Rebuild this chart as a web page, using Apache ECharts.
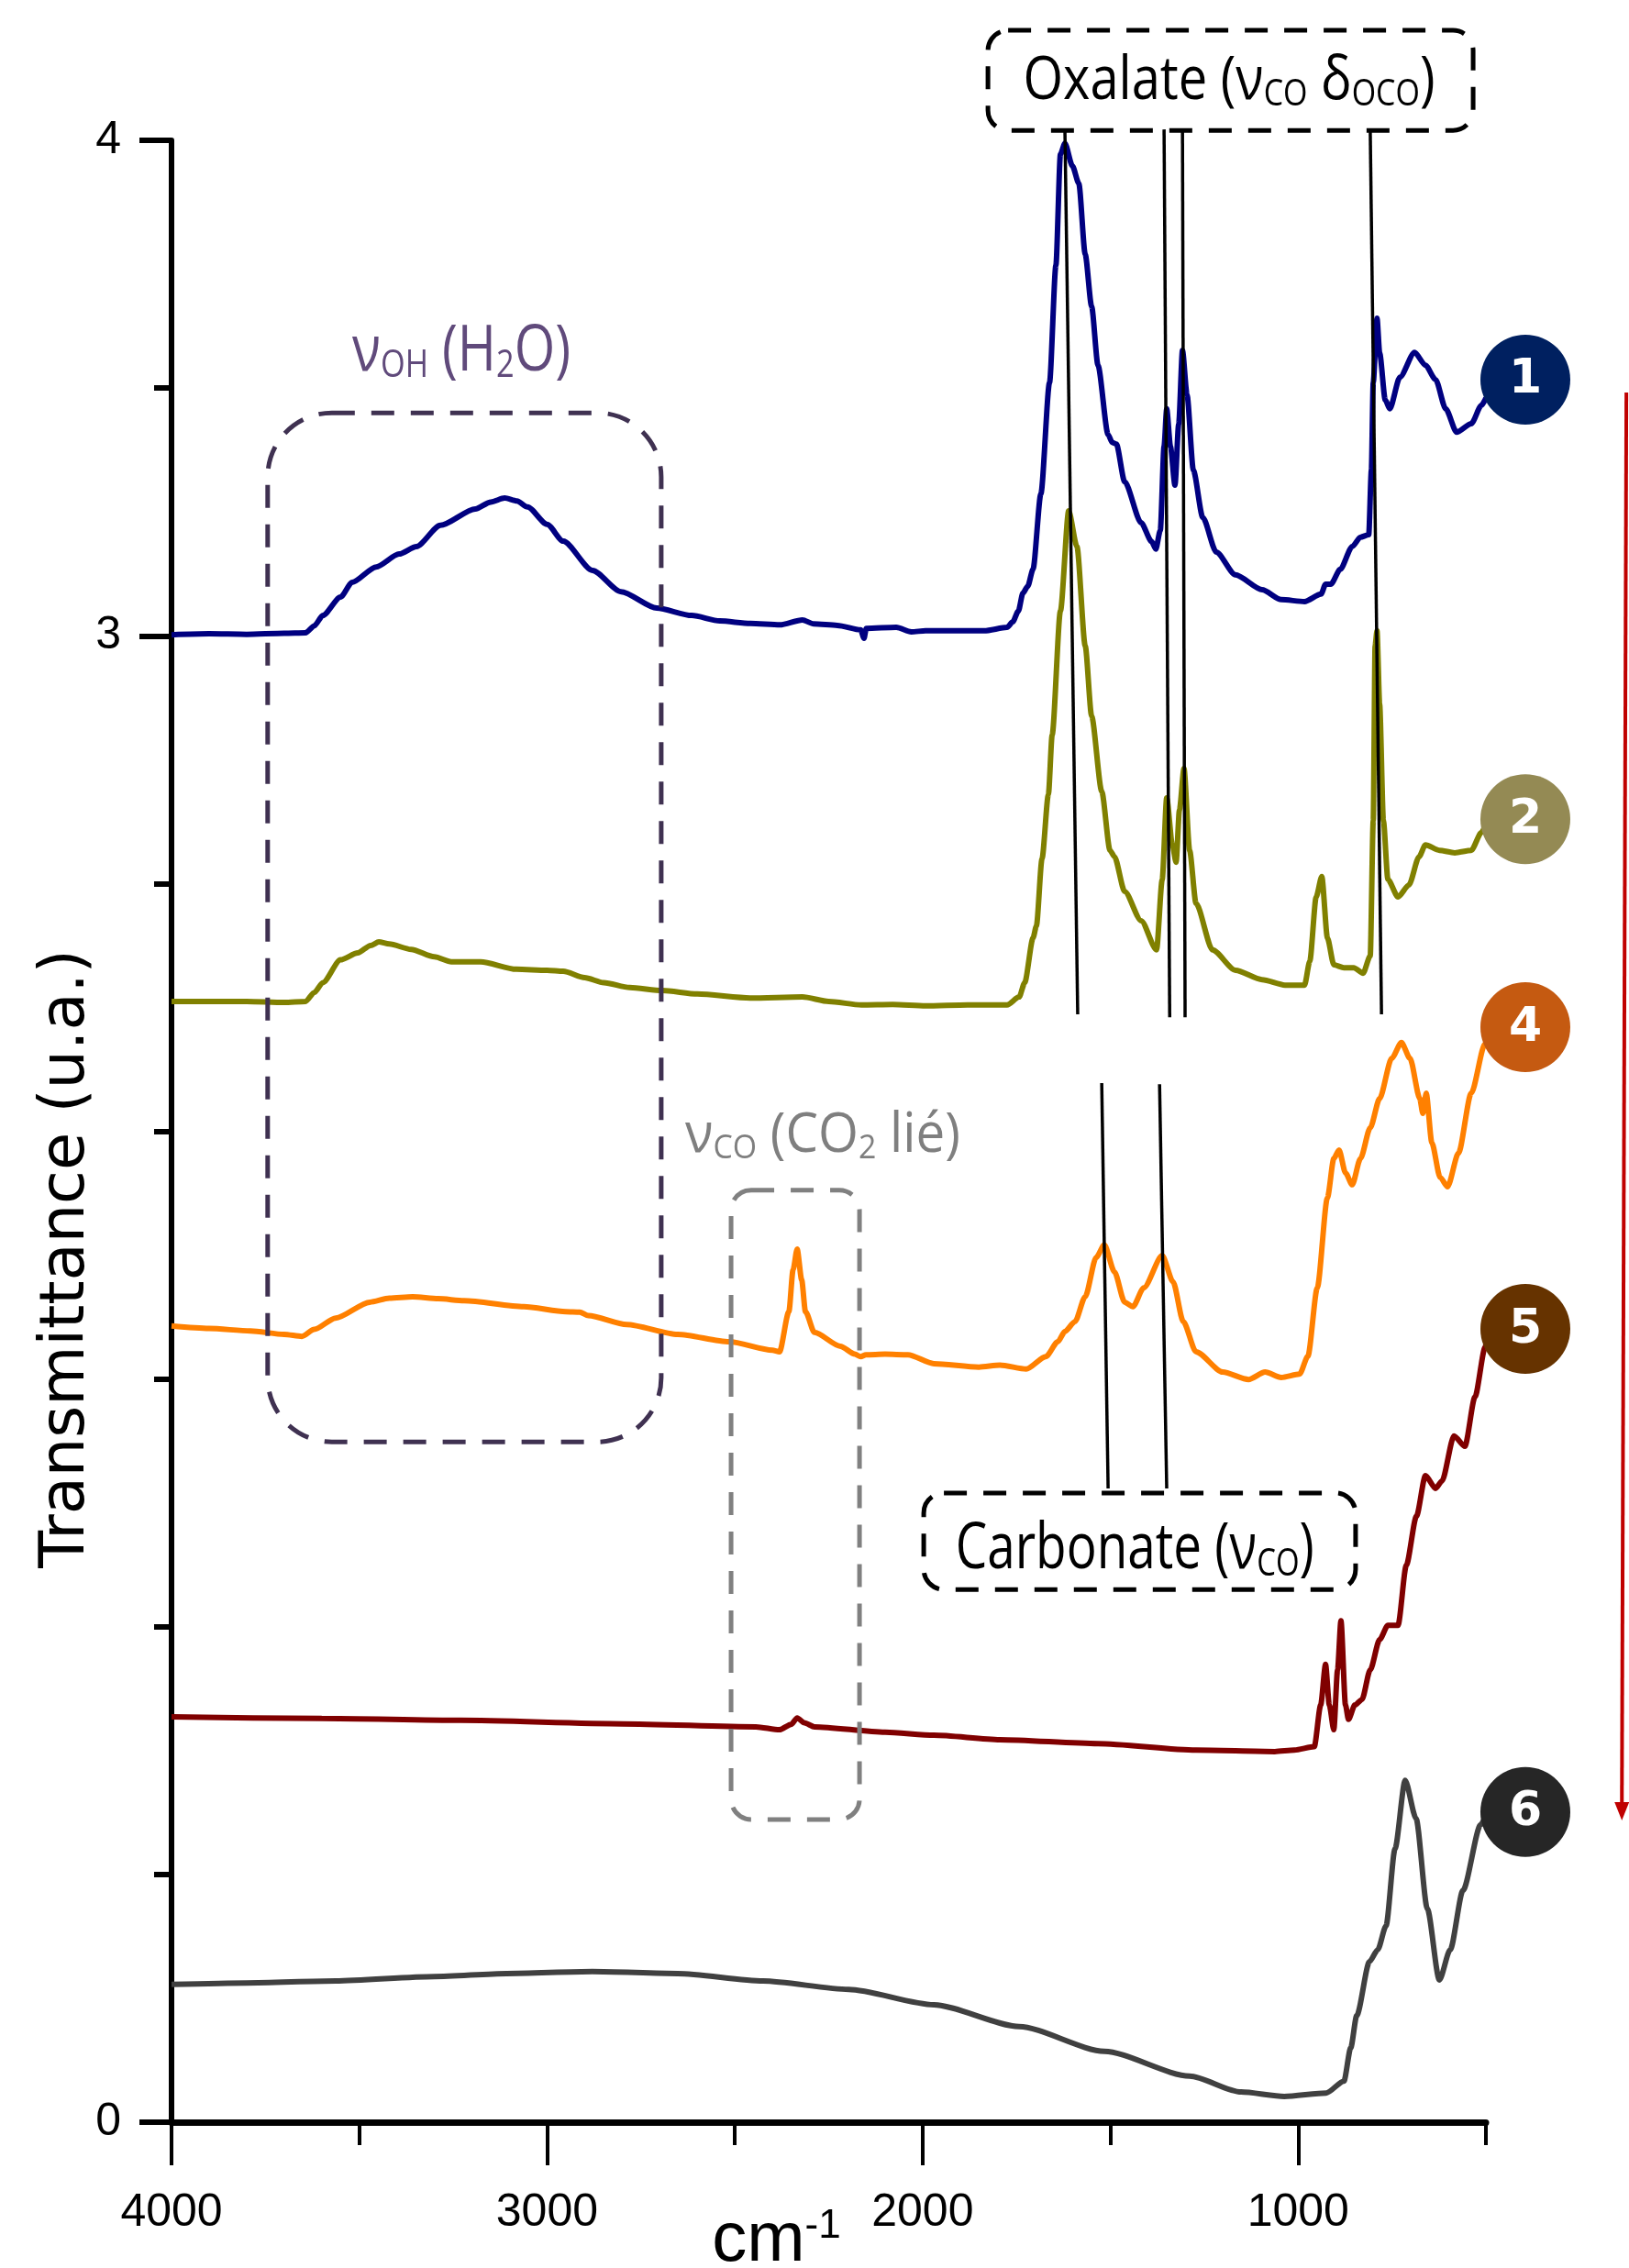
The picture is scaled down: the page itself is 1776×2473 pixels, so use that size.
<!DOCTYPE html>
<html>
<head>
<meta charset="utf-8">
<script src="https://cdn.jsdelivr.net/npm/echarts@6/dist/echarts.min.js"></script>
<style>
html,body{margin:0;padding:0;background:#ffffff;}
#chart{width:1776px;height:2473px;}
</style>
</head>
<body>
<div id="chart"></div>
<script>
// ---------------- data ----------------
const wavenumberTickLabels = [4000, 3000, 2000, 1000];
const transmittanceTickLabels = [0, 3, 4];

const spectrum1 = [[4000,3.002],[3900,3.004],[3800,3.003],[3700,3.005],[3643,3.006],[3620,3.02],[3597,3.041],[3550,3.078],[3519,3.108],[3455,3.139],[3394,3.165],[3348,3.180],[3284,3.223],[3191,3.256],[3150,3.27],[3113,3.278],[3080,3.272],[3052,3.260],[3000,3.225],[2957,3.191],[2879,3.132],[2803,3.089],[2708,3.056],[2615,3.041],[2540,3.03],[2459,3.025],[2380,3.022],[2320,3.032],[2290,3.024],[2227,3.021],[2165,3.012],[2156,2.995],[2150,3.015],[2070,3.017],[2030,3.008],[1992,3.010],[1900,3.01],[1836,3.010],[1775,3.017],[1760,3.028],[1745,3.05],[1733,3.086],[1720,3.1],[1706,3.134],[1685,3.287],[1662,3.511],[1645,3.748],[1633,3.972],[1621,3.994],[1601,3.948],[1584,3.913],[1567,3.770],[1550,3.665],[1533,3.546],[1506,3.406],[1495,3.39],[1484,3.387],[1462,3.311],[1418,3.228],[1390,3.19],[1379,3.175],[1367,3.213],[1357,3.382],[1350,3.458],[1340,3.382],[1328,3.304],[1318,3.428],[1308,3.576],[1296,3.487],[1279,3.334],[1254,3.239],[1218,3.169],[1167,3.123],[1096,3.093],[1045,3.073],[983,3.069],[939,3.084],[927,3.104],[913,3.104],[888,3.134],[856,3.180],[834,3.199],[812,3.204],[805,3.334],[800,3.511],[790,3.641],[783,3.571],[768,3.476],[756,3.458],[729,3.522],[690,3.572],[661,3.546],[634,3.517],[607,3.458],[578,3.411],[539,3.428],[512,3.465],[500,3.48]];

const spectrum2 = [[4000,2.262],[3800,2.262],[3700,2.26],[3643,2.262],[3620,2.28],[3597,2.300],[3550,2.346],[3504,2.360],[3470,2.375],[3448,2.382],[3420,2.378],[3362,2.367],[3300,2.352],[3255,2.342],[3177,2.342],[3082,2.327],[3000,2.325],[2957,2.323],[2900,2.31],[2849,2.300],[2780,2.29],[2693,2.284],[2600,2.277],[2459,2.269],[2320,2.271],[2250,2.262],[2163,2.255],[2080,2.256],[1992,2.253],[1880,2.255],[1775,2.255],[1743,2.271],[1728,2.300],[1706,2.390],[1697,2.414],[1682,2.55],[1665,2.68],[1655,2.80],[1633,3.05],[1611,3.252],[1589,3.180],[1567,2.980],[1550,2.838],[1523,2.686],[1501,2.567],[1489,2.554],[1462,2.484],[1418,2.425],[1377,2.366],[1362,2.508],[1350,2.673],[1335,2.578],[1325,2.543],[1316,2.649],[1304,2.732],[1289,2.567],[1272,2.460],[1228,2.366],[1167,2.325],[1096,2.306],[1035,2.295],[983,2.295],[969,2.343],[952,2.473],[937,2.514],[922,2.390],[905,2.336],[878,2.330],[852,2.330],[827,2.319],[808,2.354],[800,2.627],[795,2.980],[790,3.010],[783,2.862],[773,2.627],[761,2.508],[734,2.473],[705,2.497],[678,2.554],[661,2.578],[624,2.567],[583,2.562],[539,2.567],[512,2.603],[500,2.62]];

const spectrum4 = [[4000,1.607],[3900,1.602],[3790,1.597],[3700,1.59],[3653,1.586],[3620,1.60],[3563,1.623],[3472,1.655],[3420,1.663],[3358,1.666],[3290,1.662],[3221,1.658],[3062,1.646],[2950,1.636],[2913,1.635],[2890,1.628],[2788,1.610],[2652,1.590],[2515,1.575],[2400,1.558],[2381,1.555],[2356,1.636],[2345,1.72],[2334,1.762],[2322,1.70],[2312,1.636],[2288,1.594],[2219,1.566],[2180,1.55],[2165,1.545],[2151,1.549],[2100,1.55],[2039,1.549],[1970,1.531],[1850,1.524],[1794,1.528],[1724,1.52],[1672,1.545],[1640,1.575],[1621,1.596],[1594,1.616],[1567,1.666],[1538,1.745],[1516,1.771],[1489,1.716],[1462,1.655],[1440,1.646],[1411,1.684],[1362,1.749],[1333,1.696],[1306,1.616],[1272,1.555],[1201,1.514],[1132,1.499],[1088,1.514],[1045,1.503],[996,1.510],[974,1.546],[949,1.684],[922,1.866],[905,1.945],[891,1.962],[874,1.916],[856,1.892],[834,1.945],[808,2.007],[783,2.066],[751,2.147],[725,2.179],[702,2.147],[676,2.066],[668,2.036],[659,2.077],[644,1.977],[622,1.907],[602,1.888],[573,1.956],[539,2.077],[502,2.177],[500,2.18]];

const spectrum5 = [[4000,0.818],[3600,0.815],[3231,0.811],[2800,0.804],[2444,0.798],[2381,0.792],[2350,0.803],[2334,0.816],[2315,0.806],[2288,0.798],[2100,0.787],[1970,0.781],[1794,0.772],[1533,0.764],[1272,0.751],[1062,0.748],[1010,0.751],[957,0.758],[940,0.842],[927,0.924],[917,0.842],[905,0.792],[895,0.913],[886,1.012],[874,0.842],[866,0.813],[849,0.842],[830,0.853],[808,0.913],[783,0.974],[761,1.003],[734,1.003],[712,1.124],[685,1.223],[661,1.305],[634,1.279],[617,1.294],[585,1.385],[556,1.364],[529,1.464],[502,1.564],[500,1.57]];

const spectrum6 = [[4000,0.278],[3800,0.281],[3563,0.285],[3300,0.294],[3108,0.300],[2879,0.304],[2652,0.300],[2425,0.285],[2197,0.268],[1970,0.237],[1743,0.193],[1516,0.143],[1289,0.093],[1152,0.061],[1037,0.052],[925,0.059],[878,0.083],[860,0.15],[844,0.215],[810,0.324],[788,0.348],[766,0.396],[742,0.552],[715,0.690],[686,0.613],[656,0.431],[624,0.287],[595,0.348],[561,0.468],[514,0.600],[500,0.62]];

const sampleNames = ['1', '2', '4', '5', '6'];
const sampleSpectra = [spectrum1, spectrum2, spectrum4, spectrum5, spectrum6];

// ---------------- styles & annotation layout ----------------
const lineColors = ['#000080', '#808000', '#FF8000', '#800000', '#404040'];
const badgeColors = ['#002060', '#948A54', '#C55A11', '#663300', '#262626'];
const badgeAnchors = [[395, 3.517], [395, 2.630], [395, 2.210], [395, 1.601], [395, 0.626]];

const FONT_AXIS = "'Liberation Sans Narrow','Arial Narrow','Liberation Sans',Arial,sans-serif";
const FONT_NOTE = "'Open Sans','Noto Sans',sans-serif";

const pointerLines = [
  [[1621, 4.019], [1587, 2.236]],
  [[1357, 4.022], [1342, 2.230]],
  [[1308, 4.019], [1301, 2.230]],
  [[808, 4.019], [778, 2.236]],
  [[1523, 2.097], [1506, 1.279]],
  [[1369, 2.095], [1350, 1.279]]
];
const boxes = [
  {a: [1826, 4.222], b: [534, 4.020], r: 22, color: '#000000'},
  {a: [3744, 3.450], b: [2696, 1.373], r: 70, color: '#3F3151'},
  {a: [2510, 1.881], b: [2168, 0.611], r: 22, color: '#808080'},
  {a: [1997, 1.270], b: [847, 1.075], r: 22, color: '#000000'}
];
const notes = [
  {runs: [['Oxalate (\u03BD', 0], ['CO', 1], [' \u03B4', 0], ['OCO', 1], [')', 0]], at: [1184, 4.080], width: 449, size: 66, color: '#000000'},
  {runs: [['\u03BD', 0], ['OH', 1], [' (H', 0], ['2', 1], ['O)', 0]], at: [3228, 3.533], width: 238, size: 70, color: '#604A7B'},
  {runs: [['\u03BD', 0], ['CO', 1], [' (CO', 0], ['2', 1], [' li\u00E9)', 0]], at: [2266, 1.955], width: 300, size: 60, color: '#7F7F7F'},
  {runs: [['Carbonate (\u03BD', 0], ['CO', 1], [')', 0]], at: [1435, 1.114], width: 391, size: 70, color: '#000000'}
];
const arrowFrom = [126, 3.491];
const arrowTo = [138, 0.609];

// ---------------- chart ----------------
const chart = echarts.init(document.getElementById('chart'), null, {renderer: 'canvas', width: 1776, height: 2473});

const series = sampleSpectra.map((d, i) => ({
  name: sampleNames[i],
  type: 'line',
  data: d,
  xAxisIndex: 0,
  yAxisIndex: 0,
  showSymbol: false,
  symbol: 'none',
  smooth: 0.25,
  smoothMonotone: 'x',
  lineStyle: {color: lineColors[i], width: 6},
  itemStyle: {color: lineColors[i]},
  silent: true,
  z: 3
}));

const option = {
  animation: false,
  backgroundColor: '#ffffff',
  grid: {left: 187, right: 156, top: 153, bottom: 159, containLabel: false, outerBoundsMode: 'none'},
  xAxis: [
    {
      type: 'value', min: 500, max: 4000, interval: 500, inverse: true, position: 'bottom',
      axisLine: {show: true, onZero: false, lineStyle: {color: '#000', width: 7}},
      axisTick: {show: true, length: 25, lineStyle: {color: '#000', width: 4}},
      axisLabel: {
        show: true, margin: 74, color: '#000', fontFamily: FONT_AXIS, fontSize: 50,
        formatter: v => wavenumberTickLabels.includes(v) ? String(v) : ''
      },
      splitLine: {show: false},
      name: '{a|cm}{b|-1}',
      nameLocation: 'middle',
      nameGap: 92,
      nameMoveOverlap: false,
      nameTextStyle: {
        padding: [0, 114, 0, 0],
        rich: {
          a: {fontFamily: FONT_AXIS, fontSize: 76, color: '#000'},
          b: {fontFamily: FONT_AXIS, fontSize: 44, color: '#000', verticalAlign: 'top', lineHeight: 64}
        }
      }
    },
    {
      type: 'value', min: 500, max: 4000, interval: 500, inverse: true, position: 'bottom',
      axisLine: {show: false, onZero: false},
      axisTick: {show: true, customValues: wavenumberTickLabels, length: 47, lineStyle: {color: '#000', width: 4}},
      axisLabel: {show: false},
      splitLine: {show: false}
    }
  ],
  yAxis: [
    {
      type: 'value', min: 0, max: 4, interval: 0.5, position: 'left',
      axisLine: {show: true, onZero: false, lineStyle: {color: '#000', width: 6}},
      axisTick: {show: true, length: 19, lineStyle: {color: '#000', width: 6}},
      axisLabel: {
        show: true, margin: 55, color: '#000', fontFamily: FONT_AXIS, fontSize: 50,
        formatter: v => transmittanceTickLabels.includes(v) ? String(v) : ''
      },
      splitLine: {show: false},
      name: 'Transmittance (u.a.)',
      nameLocation: 'middle',
      nameGap: 80,
      nameMoveOverlap: false,
      nameTextStyle: {fontFamily: "'DejaVu Sans',sans-serif", fontSize: 67, color: '#000', padding: [0, 278, 0, 0]}
    },
    {
      type: 'value', min: 0, max: 4, interval: 0.5, position: 'left',
      axisLine: {show: false, onZero: false},
      axisTick: {show: true, customValues: transmittanceTickLabels, length: 35, lineStyle: {color: '#000', width: 6}},
      axisLabel: {show: false},
      splitLine: {show: false}
    }
  ],
  series: series
};

chart.setOption(option);

// ---------------- annotations (positioned through the axes) ----------------
const px = p => chart.convertToPixel({gridIndex: 0}, p);
const measureCtx = document.createElement('canvas').getContext('2d');
const graphics = [];

boxes.forEach(bx => {
  const p1 = px(bx.a), p2 = px(bx.b);
  graphics.push({
    type: 'rect', silent: true, z: 20,
    shape: {x: Math.min(p1[0], p2[0]), y: Math.min(p1[1], p2[1]), width: Math.abs(p2[0] - p1[0]), height: Math.abs(p2[1] - p1[1]), r: bx.r},
    style: {fill: 'none', stroke: bx.color, lineWidth: 5, lineDash: [25, 18]}
  });
});

pointerLines.forEach(l => {
  const p1 = px(l[0]), p2 = px(l[1]);
  graphics.push({
    type: 'line', silent: true, z: 21,
    shape: {x1: p1[0], y1: p1[1], x2: p2[0], y2: p2[1]},
    style: {stroke: '#000', lineWidth: 3.5}
  });
});

notes.forEach(n => {
  const F = n.size, Fs = Math.round(F * 0.6), drop = F * 0.1;
  let x = 0;
  const kids = [];
  n.runs.forEach(([t, sub]) => {
    const size = sub ? Fs : F;
    const font = size + 'px ' + FONT_NOTE;
    measureCtx.font = font;
    const w = measureCtx.measureText(t).width;
    kids.push({
      type: 'text', x: x, y: -0.31 * size + (sub ? drop : 0),
      style: {text: t, font: font, fill: n.color, textAlign: 'left', textVerticalAlign: 'middle'}
    });
    x += w;
  });
  const p = px(n.at);
  graphics.push({type: 'group', silent: true, z: 22, x: p[0] - n.width / 2, y: p[1], scaleX: n.width / x, children: kids});
});

badgeAnchors.forEach((a, i) => {
  const p = px(a);
  graphics.push({type: 'circle', silent: true, z: 23, shape: {cx: p[0], cy: p[1], r: 49}, style: {fill: badgeColors[i]}});
  graphics.push({
    type: 'text', silent: true, z: 24, x: p[0], y: p[1] + 1,
    style: {text: sampleNames[i], font: "bold 52px 'DejaVu Sans',sans-serif", fill: '#ffffff', textAlign: 'center', textVerticalAlign: 'middle'}
  });
});

(function () {
  const a = px(arrowFrom), b = px(arrowTo);
  graphics.push({type: 'line', silent: true, z: 23, shape: {x1: a[0], y1: a[1], x2: b[0], y2: b[1] - 14}, style: {stroke: '#C00000', lineWidth: 4}});
  graphics.push({type: 'polygon', silent: true, z: 23, shape: {points: [[b[0] - 8, b[1] - 20], [b[0] + 8, b[1] - 20], [b[0], b[1]]]}, style: {fill: '#C00000'}});
})();

chart.setOption({graphic: graphics});
</script>
</body>
</html>
